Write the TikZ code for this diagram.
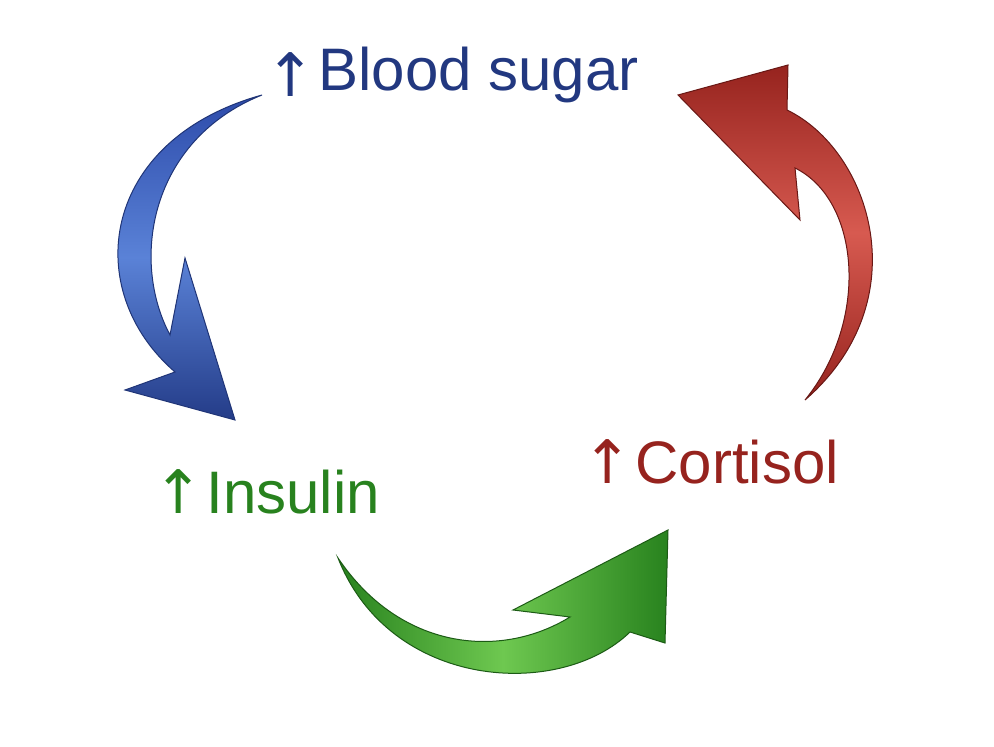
\documentclass[tikz,border=0pt]{standalone}
\usepackage{fontspec}
\setmainfont{Liberation Sans}
\newfontfamily\sym{DejaVu Sans}
\definecolor{bA}{RGB}{45,75,170}\definecolor{bB}{RGB}{90,130,215}
\definecolor{gA}{RGB}{40,130,30}\definecolor{gB}{RGB}{110,200,80}
\definecolor{rA}{RGB}{150,35,30}\definecolor{rB}{RGB}{215,90,80}
\begin{document}
\begin{tikzpicture}[x=0.5pt,y=-0.5pt,
 lab/.style={font=\fontsize{30}{32}\selectfont, anchor=west, inner sep=1pt},
 up/.style={font=\sym\fontsize{30}{32}\selectfont, anchor=east, inner sep=0pt}]
\useasboundingbox (0,0) rectangle (994,747);
% blue arrow
\path[draw=bA!70!black, line width=0.5pt, top color=bA, bottom color=bA!80!black, middle color=bB]
 (262,95) .. controls (100,140) and (80,290) .. (175,372) -- (125,390) -- (235,420) -- (185,258)
 -- (170,335) .. controls (130,260) and (150,140) .. (262,95) -- cycle;
% green arrow
\path[draw=gA!70!black, line width=0.5pt, left color=gA, right color=gA, middle color=gB]
 (338,558) .. controls (390,690) and (560,700) .. (630,632) -- (665,643) -- (668,530) -- (513,610)
 -- (570,617) .. controls (500,660) and (400,650) .. (338,558) -- cycle;
% red arrow
\path[draw=rA!70!black, line width=0.5pt, top color=rA, bottom color=rA, middle color=rB]
 (678,95) -- (788,65) -- (787,110) .. controls (870,150) and (920,300) .. (805,400)
 .. controls (870,320) and (860,200) .. (795,168) -- (800,220) -- cycle;
% labels
\node[lab, text=bA!75!black] (bs) at (316,75) {Blood sugar};
\node[up, text=bA!75!black] (bsa) at (bs.west) {↑};
\node[lab, text=gA] (ins) at (204,492) {Insulin};
\node[up, text=gA] (insa) at (ins.west) {↑};
\node[lab, text=rA] (cor) at (633,462) {Cortisol};
\node[up, text=rA] (cora) at (cor.west) {↑};
\end{tikzpicture}
\end{document}
